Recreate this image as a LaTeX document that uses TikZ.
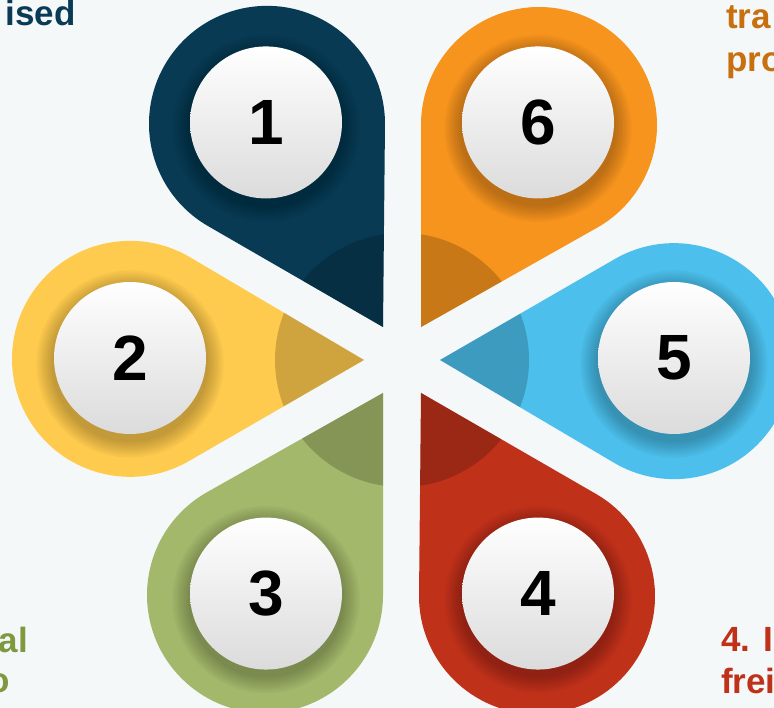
\documentclass[tikz,border=0pt]{standalone}
\usepackage{fontspec}
\setmainfont{Liberation Sans}
\usetikzlibrary{calc}
\definecolor{bgc}{HTML}{F4F8F9}
\definecolor{pnavy}{HTML}{083A54}
\definecolor{porange}{HTML}{F7941D}
\definecolor{pblue}{HTML}{4CBFEC}
\definecolor{pred}{HTML}{C0311A}
\definecolor{pgreen}{HTML}{A3B86B}
\definecolor{pyellow}{HTML}{FFCB4E}
\definecolor{tnavy}{HTML}{0B3A55}
\definecolor{torange}{HTML}{C8700F}
\definecolor{tgreen}{HTML}{7E993F}
\definecolor{tred}{HTML}{C0311A}
\tikzset{
  numcircle/.style={circle, minimum size=152pt, inner sep=0pt, top color=white, bottom color=black!14, font=\fontsize{64}{64}\selectfont\bfseries, text=black},
  sidetext/.style={font=\fontsize{35}{42}\selectfont\bfseries, inner sep=0pt}
}
\begin{document}
\begin{tikzpicture}[x=1pt,y=1pt]
\useasboundingbox (0,0) rectangle (774,708);
\clip (0,0) rectangle (774,708);
\fill[bgc] (0,0) rectangle (774,708);
\coordinate (O) at (402,348);
\begin{scope}[shift={(O)}]
\foreach \ang/\col/\num in {120/pnavy/1, 60/porange/6, 0/pblue/5, -60/pred/4, -120/pgreen/3, 180/pyellow/2} {
  \begin{scope}[rotate=\ang]
    \begin{scope}
      \clip (38,0) -- (213,101.04) arc[start angle=120,end angle=-120,radius=118] -- cycle;
      \fill[\col] (-50,-300) rectangle (420,300);
      \fill[black,opacity=0.19] (0,0) circle (127);
    \end{scope}
  \end{scope}
  \foreach \k in {1,...,8} {
    \fill[black,opacity=0.032] ($(\ang:272)+(0,-4)$) circle ({76+2.2*\k});
  }
  \node[numcircle] (n\num) at ($(\ang:272)+(0,2)$) {\num};
}
\end{scope}
\node[sidetext, text=tnavy, anchor=base east] (t1) at (76,682) {ised};
\node[sidetext, text=torange, anchor=base west] (t6a) at (726,679) {tra};
\node[sidetext, text=torange, anchor=base west] (t6b) at (726,636) {pro};
\node[sidetext, text=tgreen, anchor=base east] (t3a) at (28,55) {al};
\node[sidetext, text=tgreen, anchor=base east] (t3b) at (10,15) {o};
\node[sidetext, text=tred, anchor=base west] (t4a) at (721,56) {4. I};
\node[sidetext, text=tred, anchor=base west] (t4b) at (721,14) {frei};
\end{tikzpicture}
\end{document}
